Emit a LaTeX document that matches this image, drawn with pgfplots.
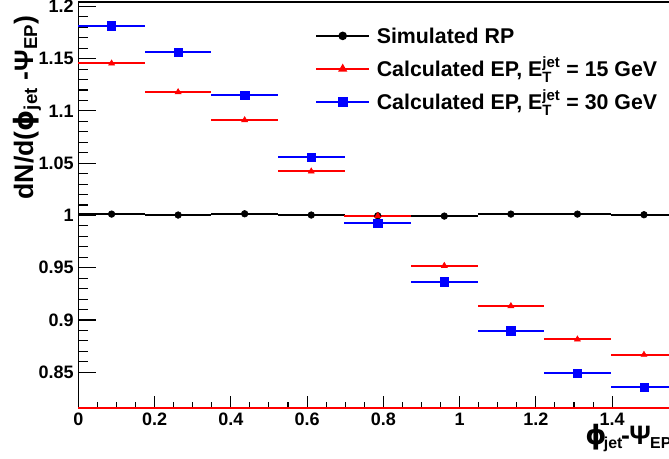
\documentclass[border=0pt]{standalone}
\usepackage{fontspec}
\setmainfont{Liberation Sans}
\newfontfamily\dejavu{DejaVu Sans}
\usepackage{pgfplots}
\pgfplotsset{compat=1.18}
\newcommand{\phisym}{{\dejavu\bfseries ϕ}}
\begin{document}
\begin{tikzpicture}
\useasboundingbox (0,0) rectangle (501.75pt,344.25pt);
\clip (0,0) rectangle (501.75pt,344.25pt);
\begin{axis}[
  scale only axis, width=444.5pt, height=304.7pt,
  at={(58.725pt,38.025pt)}, anchor=south west,
  xmin=0, xmax=1.5543, ymin=0.8156, ymax=1.2041,
  xtick={0,0.2,0.4,0.6,0.8,1,1.2,1.4}, minor x tick num=3,
  ytick={0.85,0.9,0.95,1,1.05,1.1,1.15,1.2}, minor y tick num=4,
  xtick pos=left, ytick pos=left, tick align=inside,
  xtick style={/pgfplots/major tick length=9pt,/pgfplots/minor tick length=4.5pt,line width=0.8pt,black},
  ytick style={/pgfplots/major tick length=13pt,/pgfplots/minor tick length=7.5pt,line width=0.8pt,black},
  /pgf/number format/assume math mode=true,
  ticklabel style={font=\bfseries\fontsize{13.5}{16}\selectfont},
  axis line style={line width=0.8pt},
  clip=false,
  every axis y label/.style={at={(axis description cs:-0.0764,0.968)}, anchor=base east, rotate=90, inner sep=0pt, font=\bfseries\fontsize{20}{24}\selectfont},
  every axis x label/.style={at={(axis description cs:0.855,-0.0903)}, anchor=base west, inner sep=0pt, font=\bfseries\fontsize{20}{24}\selectfont},
  ylabel={dN/d(\phisym\textsubscript{jet} -Ψ\textsubscript{EP})},
  xlabel={\phisym\kern-2pt{\fontsize{17}{20}\selectfont\textsubscript{jet}}\kern-1.5pt-\kern-0.5ptΨ\kern-0.5pt{\fontsize{17}{20}\selectfont\textsubscript{EP}}},
  legend image code/.code={\draw[#1, mark repeat=2, mark phase=2] plot coordinates {(0pt,0pt)(19.875pt,0pt)(39.75pt,0pt)};},
  legend style={draw=none, fill=none, at={(axis description cs:0.3994,0.958)}, anchor=north west, inner sep=0pt, row sep=0pt,
    font=\bfseries\fontsize{16}{19}\selectfont,
    nodes={inner xsep=5pt, inner ysep=0pt, text height=17.8pt, text depth=7pt}},
  legend cell align=left,
]
% red baseline at bottom of frame
\addplot[red, line width=1.2pt, forget plot] coordinates {(0,0.8156) (1.5543,0.8156)};

% Simulated RP
\addplot[black, only marks, mark=*, mark size=2.5pt, forget plot,
  error bars/.cd, x dir=both, x explicit, error mark=none, error bar style={line width=1.4pt, black}]
  table[x=x, y=y, x error=ex] {
x       y       ex
0.0873  1.0013  0.0873
0.2618  1.0004  0.0873
0.4363  1.0016  0.0873
0.6109  1.0004  0.0873
0.7854  0.9997  0.0873
0.9599  0.9994  0.0873
1.1345  1.0013  0.0873
1.3090  1.0013  0.0873
1.4835  1.0007  0.0873
};

% Calculated EP, 15 GeV
\addplot[red, only marks, mark=triangle*, mark size=2.6pt, forget plot,
  error bars/.cd, x dir=both, x explicit, error mark=none, error bar style={line width=1.4pt, red}]
  table[x=x, y=y, x error=ex] {
x       y       ex
0.0873  1.1454  0.0873
0.2618  1.1180  0.0873
0.4363  1.0912  0.0873
0.6109  1.0422  0.0873
0.7854  0.9997  0.0873
0.9599  0.9519  0.0873
1.1345  0.9134  0.0873
1.3090  0.8815  0.0873
1.4835  0.8668  0.0873
};

% Calculated EP, 30 GeV
\addplot[blue, only marks, mark=square*, mark size=3.1pt, forget plot,
  error bars/.cd, x dir=both, x explicit, error mark=none, error bar style={line width=1.4pt, blue}]
  table[x=x, y=y, x error=ex] {
x       y       ex
0.0873  1.1814  0.0873
0.2618  1.1562  0.0873
0.4363  1.1148  0.0873
0.6109  1.0558  0.0873
0.7854  0.9924  0.0873
0.9599  0.9366  0.0873
1.1345  0.8898  0.0873
1.3090  0.8493  0.0873
1.4835  0.8359  0.0873
};

\addlegendimage{black, line width=1.4pt, mark=*, mark size=2.5pt, mark options={solid}}
\addlegendentry{Simulated RP}
\addlegendimage{red, line width=1.4pt, mark=triangle*, mark size=2.6pt, mark options={solid}}
\addlegendentry{Calculated EP, E\rlap{\raisebox{-0.15em}{\textsubscript{T}}}\textsuperscript{jet} = 15 GeV}
\addlegendimage{blue, line width=1.4pt, mark=square*, mark size=3.1pt, mark options={solid}}
\addlegendentry{Calculated EP, E\rlap{\raisebox{-0.15em}{\textsubscript{T}}}\textsuperscript{jet} = 30 GeV}
\end{axis}
\end{tikzpicture}
\end{document}
